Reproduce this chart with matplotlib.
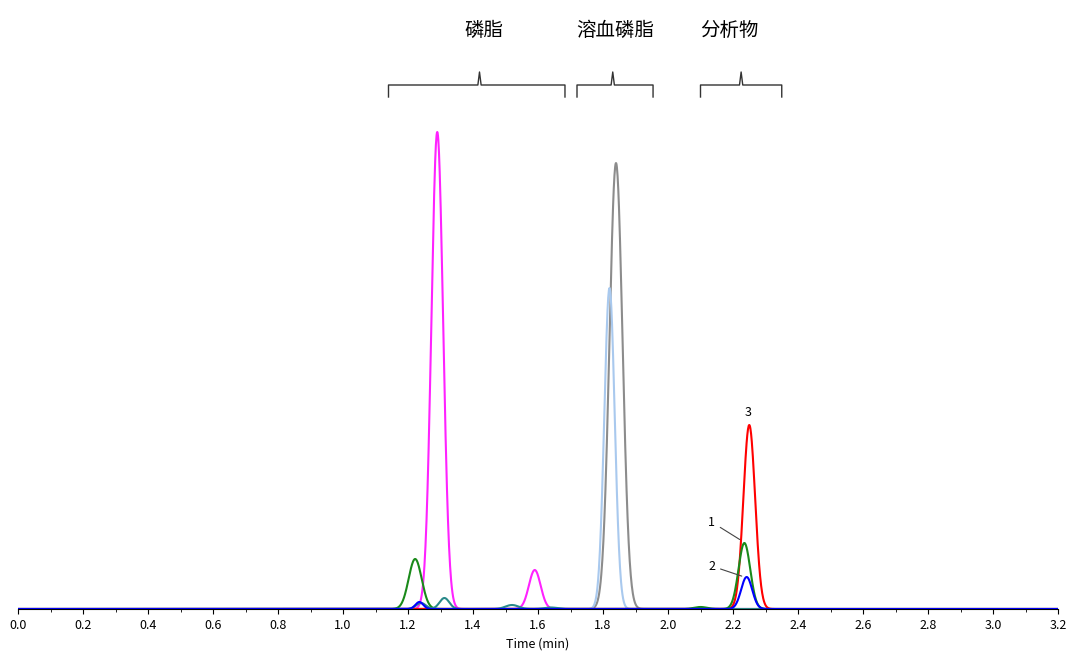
import numpy as np
import matplotlib.pyplot as plt

plt.rcParams['font.family'] = ['Noto Sans CJK SC', 'DejaVu Sans']

# peaks per trace: (retention time, height, width sigma)
magenta_peaks = [(1.290, 477, 0.018), (1.590, 39, 0.018)]
gray_peaks = [(1.840, 446, 0.020)]
lightblue_peaks = [(1.820, 321, 0.016)]
red_peaks = [(2.250, 184, 0.018)]
green_peaks = [(1.222, 50, 0.020), (2.235, 66, 0.018), (2.10, 2, 0.02)]
blue_peaks = [(1.235, 7, 0.012), (2.242, 32, 0.017)]
teal_peaks = [(1.240, 6, 0.015), (1.312, 11, 0.015), (1.520, 4, 0.02), (1.64, 1.5, 0.02)]

traces = [
    ("#8c8c8c", gray_peaks),
    ("#a9c9ee", lightblue_peaks),
    ("#ff22ff", magenta_peaks),
    ("#ff0000", red_peaks),
    ("#1a8a1a", green_peaks),
    ("#2a8a8a", teal_peaks),
    ("#0000ff", blue_peaks),
]

brackets = [(1.14, 1.683, 1.42, "磷脂", 1.434),
            (1.72, 1.954, 1.83, "溶血磷脂", 1.837),
            (2.10, 2.35, 2.225, "分析物", 2.19)]

t = np.linspace(0, 3.2, 3000)

fig = plt.figure(figsize=(10.8, 6.68), dpi=100)
ax = fig.add_axes([18 / 1080, 59 / 668, 1040 / 1080, 499 / 668])
for color, peaks in traces:
    y = np.zeros_like(t)
    for c, h, w in peaks:
        y += h * np.exp(-0.5 * ((t - c) / w) ** 2)
    ax.plot(t, y, color=color, lw=1.5)

ax.set_xlim(0, 3.2)
ax.set_ylim(0, 499)
ax.set_xticks(np.arange(0, 3.21, 0.2))
ax.set_xticklabels([f"{v:.1f}" for v in np.arange(0, 3.21, 0.2)], fontsize=9)
ax.set_xticks(np.arange(0, 3.21, 0.1), minor=True)
ax.set_yticks([])
for s in ["top", "right", "left"]:
    ax.spines[s].set_visible(False)
ax.set_xlabel("Time (min)", fontsize=9)

for x0, x1, xt, label, xl in brackets:
    ax.plot([x0, x0, xt - 0.005, xt, xt + 0.005, x1, x1],
            [512, 524, 524, 537, 524, 524, 512], color="#333333", lw=1, clip_on=False)
    ax.text(xl, 579, label, ha="center", va="center", fontsize=14)

# peak labels
ax.annotate("1", xy=(2.228, 68), xytext=(2.145, 87), fontsize=9, ha="right", va="center",
            arrowprops=dict(arrowstyle="-", color="#444444", lw=0.8))
ax.annotate("2", xy=(2.235, 32), xytext=(2.145, 43), fontsize=9, ha="right", va="center",
            arrowprops=dict(arrowstyle="-", color="#444444", lw=0.8))
ax.text(2.247, 190, "3", fontsize=9, ha="center", va="bottom")

fig.savefig("out.png", dpi=100, facecolor="white")
